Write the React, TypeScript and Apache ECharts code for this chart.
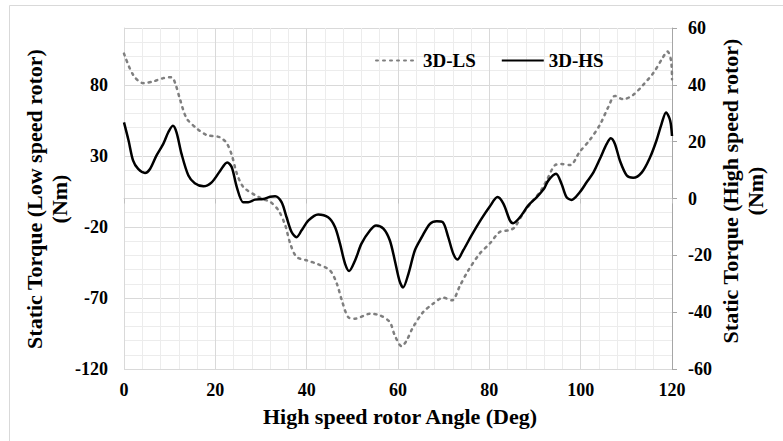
import React, { useEffect, useRef } from "react";
import * as echarts from "echarts";

const FONT = '"Liberation Serif", "Times New Roman", serif';

// 3D-LS (left axis, low speed rotor torque, Nm)
const lsAngles = [0, 2.0, 4.2, 6.4, 8.6, 10.4, 11.2, 12.3, 13.7, 15.9, 18.1, 21.0, 22.5, 23.6, 24.7, 26.1, 28.7, 30.5, 32.0, 33.8, 35.3, 36.4, 37.8, 40.0, 42.5, 45.1, 46.6, 47.7, 49.1, 50.6, 53.9, 56.1, 58.2, 59.3, 60.8, 61.8, 63.3, 65.5, 67.7, 69.9, 71.8, 73.6, 75.4, 77.9, 80.1, 82.3, 84.5, 85.6, 87.4, 89.6, 91.1, 92.6, 94.4, 95.8, 97.7, 99.8, 102.0, 104.2, 106.1, 107.5, 109.3, 111.5, 113.7, 115.9, 117.7, 119.0, 119.8, 120];
const lsValues = [102, 87, 81.2, 82.4, 84.7, 85.4, 81.2, 69.4, 56.5, 49.4, 44.7, 43.1, 38.9, 30.6, 17.7, 8.2, 2.4, -0.5, -2.3, -8.2, -18.8, -31.7, -41.2, -43.5, -46.3, -50.6, -59.9, -71.7, -83.5, -84.6, -81.1, -82.3, -87, -96.4, -104, -100.5, -90.6, -80, -74, -69.8, -71.7, -61.1, -50.6, -38.8, -31.7, -23.5, -22.3, -20, -10.5, -1.2, 4.7, 13, 23.5, 24.2, 23.5, 32.9, 41.2, 51.8, 64.7, 72.2, 69.9, 72.9, 80, 88.3, 97.6, 103.5, 97, 84];

// 3D-HS (right axis, high speed rotor torque, Nm)
const hsAngles = [0, 1.0, 2.0, 3.1, 4.6, 5.7, 7.1, 8.6, 9.7, 10.7, 11.5, 12.6, 14.1, 15.5, 17.4, 19.2, 21.0, 22.6, 23.6, 24.7, 26.1, 27.2, 28.7, 30.5, 32.0, 33.1, 34.5, 35.6, 36.7, 37.8, 38.9, 40.4, 42.5, 44.7, 46.2, 47.3, 48.4, 49.3, 50.6, 52.0, 53.9, 55.2, 56.8, 58.2, 59.3, 60.3, 61.1, 62.3, 63.7, 65.2, 67.0, 68.5, 69.8, 71.0, 72.1, 73.0, 74.3, 76.1, 78.3, 80.1, 81.8, 83.1, 84.5, 85.2, 86.7, 88.5, 90.4, 92.0, 92.9, 94.6, 95.8, 96.9, 98.0, 99.8, 101.3, 102.8, 104.2, 105.7, 106.6, 107.5, 108.6, 110.1, 111.5, 113.4, 115.2, 116.6, 117.7, 118.7, 119.6, 120];
const hsValues = [26.8, 20.4, 13.3, 10.4, 9, 10.4, 15.1, 19.2, 23.3, 25.6, 23.3, 15.7, 8.1, 5.4, 4.3, 5.7, 9.6, 12.7, 11, 4, -1.3, -1.3, -0.4, -0.2, 0.6, 0.8, -1.3, -6.6, -11.8, -13.6, -11.2, -7.7, -5.6, -6.6, -10, -15.9, -22.9, -25.5, -21.8, -15.9, -11.2, -9.5, -10.6, -14.7, -21.8, -28.8, -31.3, -26.4, -18.2, -13.6, -8.9, -8, -8.3, -13.6, -19.4, -21.5, -18.2, -13, -7.1, -2.8, 0.5, -1.9, -7.7, -8.7, -6.6, -2.5, 0.5, 3.5, 6.3, 8.7, 5.2, 0.5, -0.5, 2.2, 5.7, 9.2, 13.9, 19.2, 21.2, 19.2, 13.3, 8.1, 7.3, 9.2, 14.5, 20.4, 26.2, 30.3, 27.4, 22];

const seriesNames = ["3D-LS", "3D-HS"];
const xTitle = "High speed rotor Angle (Deg)";
const leftTitle = "Static Torque (Low speed rotor)";
const rightTitle = "Static Torque (High speed rotor)";
const unitTitle = "(Nm)";

export default function App() {
  const ref = useRef<HTMLDivElement>(null);
  useEffect(() => {
    if (!ref.current) return;
    const chart = echarts.init(ref.current, null, { renderer: "svg" });
    const labelStyle = { fontFamily: FONT, fontWeight: "bold" as const, fontSize: 18, color: "#000" };
    const titleStyle = { fontFamily: FONT, fontWeight: "bold", fontSize: 22, fill: "#000" };
    chart.setOption({
      animation: false,
      backgroundColor: "#fff",
      grid: { left: 124, right: 111, top: 28, bottom: 72, containLabel: false },
      legend: {
        left: 370,
        top: 46,
        itemWidth: 42,
        itemHeight: 14,
        itemGap: 25,
        data: seriesNames,
        itemStyle: { opacity: 0 },
        textStyle: { fontFamily: FONT, fontWeight: "bold", fontSize: 19, color: "#000" },
      },
      xAxis: {
        type: "value",
        min: 0,
        max: 120,
        interval: 20,
        axisLine: { show: true, lineStyle: { color: "#d9d9d9", width: 1 } },
        axisTick: { show: true, length: 5, lineStyle: { color: "#bfbfbf" } },
        axisLabel: { ...labelStyle, margin: 12 },
        splitLine: { show: true, lineStyle: { color: "#d9d9d9", width: 1 } },
        minorTick: { show: false, splitNumber: 5 },
        minorSplitLine: { show: true, lineStyle: { color: "#ececec", width: 1 } },
      },
      yAxis: [
        {
          type: "value",
          position: "left",
          min: -120,
          max: 120,
          interval: 50,
          axisLine: { show: true, lineStyle: { color: "#d9d9d9" } },
          axisTick: { show: false },
          axisLabel: { ...labelStyle, margin: 16, formatter: (v: number) => (v === 120 ? "" : String(v)) },
          splitLine: { show: true, lineStyle: { color: "#d9d9d9", width: 1 } },
        },
        {
          type: "value",
          position: "right",
          min: -60,
          max: 60,
          interval: 20,
          axisLine: { show: true, lineStyle: { color: "#a6a6a6" } },
          axisTick: { show: true, length: 5, lineStyle: { color: "#a6a6a6" } },
          axisLabel: { ...labelStyle, margin: 16 },
          splitLine: { show: false },
        },
        {
          type: "value",
          position: "left",
          min: -120,
          max: 120,
          interval: 10,
          z: -1,
          axisLine: { show: false },
          axisTick: { show: false },
          axisLabel: { show: false },
          splitLine: { show: true, lineStyle: { color: "#ececec", width: 1 } },
        },
      ],
      series: [
        {
          name: seriesNames[0],
          type: "line",
          yAxisIndex: 0,
          smooth: 0.3,
          showSymbol: false,
          symbol: "none",
          data: lsAngles.map((a, i) => [a, lsValues[i]]),
          lineStyle: { color: "#7f7f7f", width: 2.5, type: [2, 5], cap: "round" },
          itemStyle: { color: "#7f7f7f" },
          z: 3,
        },
        {
          name: seriesNames[1],
          type: "line",
          yAxisIndex: 1,
          smooth: 0.3,
          showSymbol: false,
          symbol: "none",
          data: hsAngles.map((a, i) => [a, hsValues[i]]),
          lineStyle: { color: "#000", width: 2.5 },
          itemStyle: { color: "#000" },
          z: 4,
        },
      ],
      graphic: [
        { type: "line", shape: { x1: 9.5, y1: 5.5, x2: 783, y2: 5.5 }, style: { stroke: "#d9d9d9", lineWidth: 1 }, silent: true },
        { type: "line", shape: { x1: 9.5, y1: 5.5, x2: 9.5, y2: 441 }, style: { stroke: "#d9d9d9", lineWidth: 1 }, silent: true },
        { type: "text", x: 400, y: 416, style: { ...titleStyle, text: xTitle, align: "center", verticalAlign: "middle" } },
        { type: "text", x: 34, y: 199, rotation: Math.PI / 2, style: { ...titleStyle, text: leftTitle, align: "center", verticalAlign: "middle" } },
        { type: "text", x: 59, y: 199, rotation: Math.PI / 2, style: { ...titleStyle, text: unitTitle, align: "center", verticalAlign: "middle" } },
        { type: "text", x: 730, y: 191, rotation: Math.PI / 2, style: { ...titleStyle, text: rightTitle, align: "center", verticalAlign: "middle" } },
        { type: "text", x: 755, y: 191, rotation: Math.PI / 2, style: { ...titleStyle, text: unitTitle, align: "center", verticalAlign: "middle" } },
      ],
    });
    return () => chart.dispose();
  }, []);
  return <div ref={ref} style={{ position: "fixed", left: 0, top: 0, width: 783, height: 441 }} />;
}
